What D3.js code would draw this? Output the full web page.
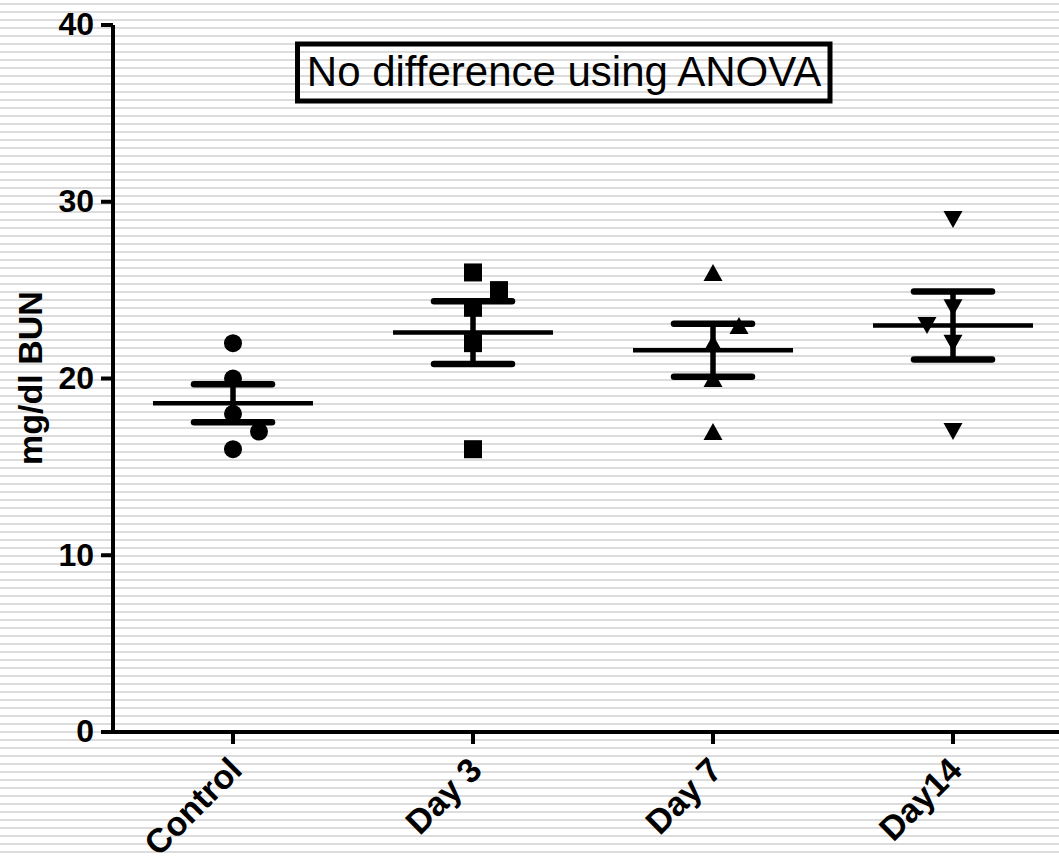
<!DOCTYPE html>
<html>
<head>
<meta charset="utf-8">
<script src="https://cdn.jsdelivr.net/npm/d3@7"></script>
<style>
  html, body { margin: 0; padding: 0; background: #fff; }
  svg { display: block; }
  text { font-family: "Liberation Sans", Arial, Helvetica, sans-serif; }
</style>
</head>
<body>
<svg id="chart" width="1059" height="856"></svg>
<script>
// Groups and BUN readings (mg/dl) per animal
const categories = ["Control", "Day 3", "Day 7", "Day14"];
const controlValues = [22, 20, 18, 17, 16];
const day3Values = [26, 25, 24, 22, 16];
const day7Values = [26, 23, 22, 20, 17];
const day14Values = [29, 24, 23, 22, 17];
// side-by-side lane for overlapping points (0 = centre column)
const controlLanes = [0, 0, 0, 1, 0];
const day3Lanes = [0, 1, 0, 0, 0];
const day7Lanes = [0, 1, 0, 0, 0];
const day14Lanes = [0, 0, -1, 0, 0];
const yTicks = [0, 10, 20, 30, 40];
const yLabel = "mg/dl BUN";
const note = "No difference using ANOVA";

const groups = [
  { name: categories[0], values: controlValues, lanes: controlLanes, shape: "circle" },
  { name: categories[1], values: day3Values, lanes: day3Lanes, shape: "square" },
  { name: categories[2], values: day7Values, lanes: day7Lanes, shape: "triangle" },
  { name: categories[3], values: day14Values, lanes: day14Lanes, shape: "triangleDown" }
];

const W = 1059, H = 856;
const svg = d3.select("#chart");

// striped backdrop
svg.append("rect").attr("width", W).attr("height", H).attr("fill", "#fff");
svg.append("g").selectAll("rect")
  .data(d3.range(4, H, 8))
  .join("rect")
  .attr("x", 0).attr("y", d => d - 1)
  .attr("width", W).attr("height", 2)
  .attr("fill", "#dcdcdc");

const x0 = 113, yBase = 732;
const x = d3.scaleBand().domain(categories).range([x0, x0 + 240 * categories.length]).padding(0);
const y = d3.scaleLinear().domain([0, 40]).range([yBase, 25]);
const cx = c => x(c) + x.bandwidth() / 2;
const laneStep = 26;

// y axis
const yAxis = svg.append("g")
  .attr("transform", `translate(${x0},0)`)
  .call(d3.axisLeft(y).tickValues(yTicks).tickSize(12).tickSizeOuter(0).tickPadding(7).offset(0));
yAxis.select(".domain").attr("stroke", "#000").attr("stroke-width", 4);
yAxis.selectAll(".tick line").attr("stroke", "#000").attr("stroke-width", 4);
yAxis.selectAll(".tick text")
  .attr("font-size", 32).attr("font-weight", "bold").attr("fill", "#000")
  .attr("font-family", "Liberation Sans, Arial, sans-serif");

// x axis (runs off the right edge)
svg.append("line")
  .attr("x1", x0 - 2).attr("x2", W + 5)
  .attr("y1", yBase).attr("y2", yBase)
  .attr("stroke", "#000").attr("stroke-width", 4);
svg.append("g").selectAll("line")
  .data(categories)
  .join("line")
  .attr("x1", d => cx(d)).attr("x2", d => cx(d))
  .attr("y1", yBase).attr("y2", yBase + 12)
  .attr("stroke", "#000").attr("stroke-width", 4);
svg.append("g").selectAll("text")
  .data(categories)
  .join("text")
  .attr("transform", d => `translate(${cx(d) + 11},${yBase + 40}) rotate(-45)`)
  .attr("text-anchor", "end")
  .attr("font-size", 34).attr("font-weight", "bold")
  .text(d => d);

// y axis title
svg.append("text")
  .attr("transform", `translate(42,378) rotate(-90)`)
  .attr("text-anchor", "middle")
  .attr("font-size", 34).attr("font-weight", "bold")
  .text(yLabel);

// mean and SEM bars
const meanHalf = 80, capHalf = 39;
groups.forEach(g => {
  const m = d3.mean(g.values);
  const sem = d3.deviation(g.values) / Math.sqrt(g.values.length);
  const c = cx(g.name);
  const gg = svg.append("g").attr("stroke", "#000");
  gg.append("line").attr("x1", c).attr("x2", c)
    .attr("y1", y(m + sem)).attr("y2", y(m - sem)).attr("stroke-width", 5.5);
  [m + sem, m - sem].forEach(v => {
    gg.append("line").attr("x1", c - capHalf).attr("x2", c + capHalf)
      .attr("y1", y(v)).attr("y2", y(v))
      .attr("stroke-width", 6.5).attr("stroke-linecap", "round");
  });
  gg.append("line").attr("x1", c - meanHalf).attr("x2", c + meanHalf)
    .attr("y1", y(m)).attr("y2", y(m)).attr("stroke-width", 4.5);
});

// individual points
function marker(shape) {
  switch (shape) {
    case "circle": return "M-9,0A9,9 0 1,0 9,0A9,9 0 1,0 -9,0Z";
    case "square": return "M-9,-9H9V9H-9Z";
    case "triangle": return "M0,-8.5L9.5,8.5H-9.5Z";
    case "triangleDown": return "M0,8.5L9.5,-8.5H-9.5Z";
  }
}
groups.forEach(g => {
  svg.append("g").selectAll("path")
    .data(g.values.map((v, i) => ({ v, lane: g.lanes[i] })))
    .join("path")
    .attr("d", marker(g.shape))
    .attr("transform", d => `translate(${cx(g.name) + d.lane * laneStep},${y(d.v)})`)
    .attr("fill", "#000");
});

// annotation box
const noteG = svg.append("g");
noteG.append("rect")
  .attr("x", 297.5).attr("y", 44).attr("width", 532.5).attr("height", 57)
  .attr("fill", "none").attr("stroke", "#000").attr("stroke-width", 5);
noteG.append("text")
  .attr("x", 564).attr("y", 86)
  .attr("text-anchor", "middle")
  .attr("font-size", 42)
  .text(note);
</script>
</body>
</html>
